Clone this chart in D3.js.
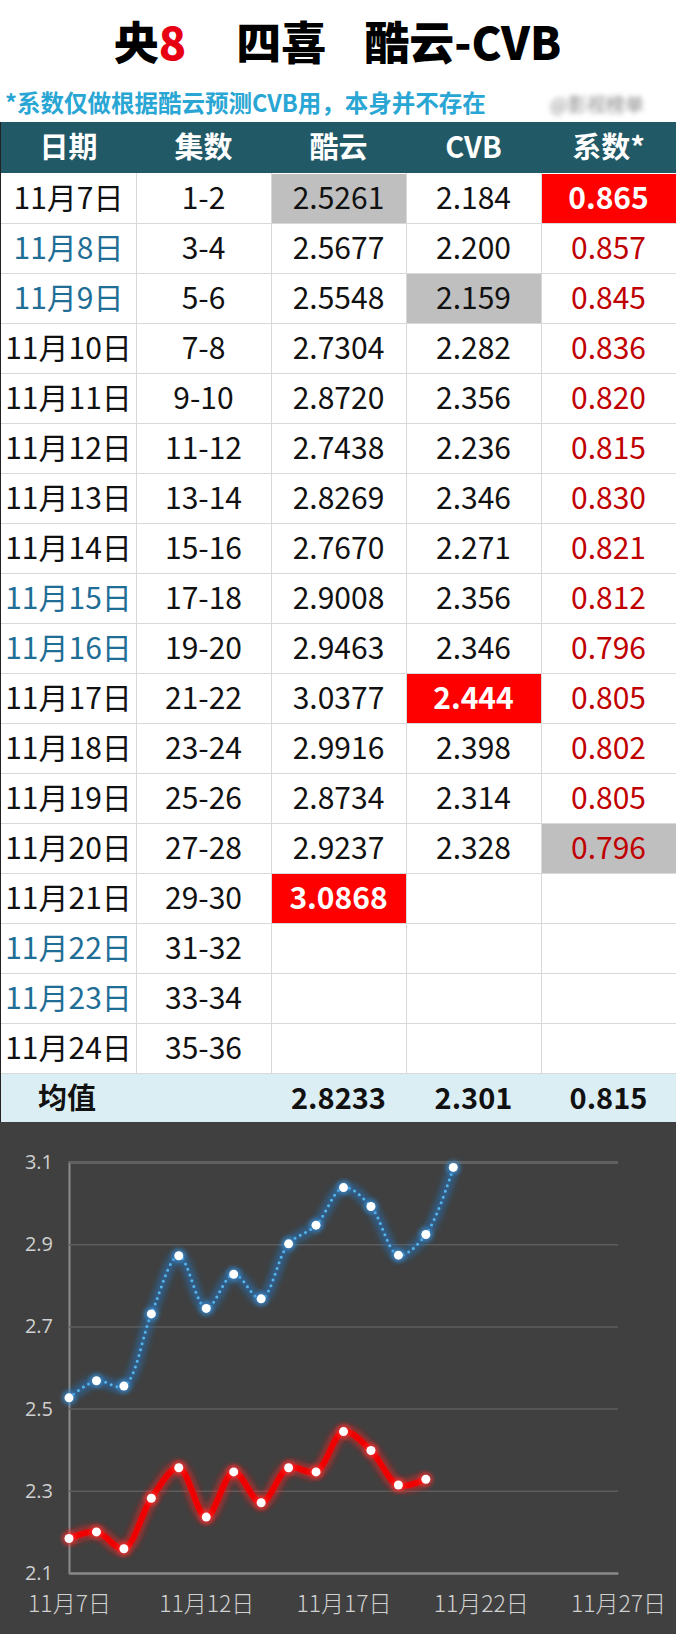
<!DOCTYPE html>
<html>
<head>
<meta charset="utf-8">
<script src="https://cdn.jsdelivr.net/npm/d3@7"></script>
<style>
  body { margin: 0; background: #fff; }
  svg { display: block; font-family: "Noto Sans CJK SC", "Noto Sans", sans-serif; }
</style>
</head>
<body>
<div id="chart"></div>
<script>
// ---- data ----
var dates = ["11月7日", "11月8日", "11月9日", "11月10日", "11月11日", "11月12日", "11月13日", "11月14日", "11月15日",
    "11月16日", "11月17日", "11月18日", "11月19日", "11月20日", "11月21日", "11月22日", "11月23日", "11月24日"];
var weekend = [false, true, true, false, false, false, false, false, true, true, false, false, false, false, false, true, true, false];
var episodes = ["1-2", "3-4", "5-6", "7-8", "9-10", "11-12", "13-14", "15-16", "17-18", "19-20", "21-22", "23-24",
    "25-26", "27-28", "29-30", "31-32", "33-34", "35-36"];
var kuyun = [2.5261, 2.5677, 2.5548, 2.7304, 2.8720, 2.7438, 2.8269, 2.7670, 2.9008, 2.9463, 3.0377, 2.9916, 2.8734, 2.9237, 3.0868];
var cvb = [2.184, 2.200, 2.159, 2.282, 2.356, 2.236, 2.346, 2.271, 2.356, 2.346, 2.444, 2.398, 2.314, 2.328];
var coef = [0.865, 0.857, 0.845, 0.836, 0.820, 0.815, 0.830, 0.821, 0.812, 0.796, 0.805, 0.802, 0.805, 0.796];
var headers = ["日期", "集数", "酷云", "CVB", "系数*"];
var averages = ["均值", "", "2.8233", "2.301", "0.815"];
var yTicks = [2.1, 2.3, 2.5, 2.7, 2.9, 3.1];
var xTickDays = [7, 12, 17, 22, 27];

var W = 679, H = 1634;
var colW = 135, tableX = 1;
var headTop = 122, headH = 51, rowH = 50;
var bodyTop = headTop + headH;
var avgTop = bodyTop + dates.length * rowH;
var chartTop = avgTop + 49;

var svg = d3.select("#chart").append("svg")
    .attr("width", W)
    .attr("height", H);

var defs = svg.append("defs");
function glow(id, sd) {
    var f = defs.append("filter").attr("id", id)
        .attr("x", "-20%").attr("y", "-20%").attr("width", "140%").attr("height", "140%");
    f.append("feGaussianBlur").attr("stdDeviation", sd);
}
glow("blur3", 3);
glow("blur2", 2);
glow("blurWm", 2.5);

svg.append("rect").attr("width", W).attr("height", H).attr("fill", "#fff");

// ---- title ----
var title = svg.append("text")
    .attr("x", W / 2 - 2)
    .attr("y", 60)
    .attr("text-anchor", "middle")
    .attr("font-size", 45)
    .attr("font-weight", 900)
    .attr("fill", "#000");
title.append("tspan").text("央");
title.append("tspan").attr("fill", "#e60012").text("8");
title.append("tspan").attr("dx", 50).text("四喜");
title.append("tspan").attr("dx", 38).text("酷云-CVB");

svg.append("text")
    .attr("x", 5)
    .attr("y", 112)
    .attr("font-size", 23.5)
    .attr("font-weight", "bold")
    .attr("fill", "#29a6d3")
    .text("*系数仅做根据酷云预测CVB用，本身并不存在");

// blurred watermark
svg.append("text")
    .attr("x", 550)
    .attr("y", 112)
    .attr("font-size", 19)
    .attr("fill", "#888")
    .attr("filter", "url(#blurWm)")
    .text("@影视榜单");

// ---- header ----
svg.append("rect")
    .attr("x", 0).attr("y", headTop)
    .attr("width", tableX + colW * 5).attr("height", headH)
    .attr("fill", "#215967");

svg.append("g").selectAll("text")
    .data(headers)
    .join("text")
    .attr("x", function (d, i) { return tableX + colW * i + colW / 2; })
    .attr("y", headTop + 36)
    .attr("text-anchor", "middle")
    .attr("font-size", 29)
    .attr("font-weight", "bold")
    .attr("fill", "#fff")
    .text(function (d) { return d; });

// ---- body ----
var rows = dates.map(function (d, i) {
    return {
        date: d,
        weekend: weekend[i],
        ep: episodes[i],
        k: i < kuyun.length ? kuyun[i].toFixed(4) : "",
        c: i < cvb.length ? cvb[i].toFixed(3) : "",
        x: i < coef.length ? coef[i].toFixed(3) : ""
    };
});

var kMin = d3.min(kuyun), kMax = d3.max(kuyun);
var cMin = d3.min(cvb), cMax = d3.max(cvb);
var xMin = d3.min(coef), xMax = d3.max(coef);

var body = svg.append("g");
rows.forEach(function (r, i) {
    var y = bodyTop + i * rowH;
    var cells = [
        { t: r.date, col: r.weekend ? "#1f6e96" : "#111" },
        { t: r.ep, col: "#111" },
        { t: r.k, col: "#111" },
        { t: r.c, col: "#111" },
        { t: r.x, col: "#c00000" }
    ];
    // highlights: grey = min, red = max
    if (i < kuyun.length) {
        if (kuyun[i] === kMin) cells[2].bg = "#bfbfbf";
        if (kuyun[i] === kMax) { cells[2].bg = "#ff0000"; cells[2].col = "#fff"; cells[2].bold = true; }
    }
    if (i < cvb.length) {
        if (cvb[i] === cMin) cells[3].bg = "#bfbfbf";
        if (cvb[i] === cMax) { cells[3].bg = "#ff0000"; cells[3].col = "#fff"; cells[3].bold = true; }
    }
    if (i < coef.length) {
        if (coef[i] === xMax) { cells[4].bg = "#ff0000"; cells[4].col = "#fff"; cells[4].bold = true; }
        if (coef[i] === xMin && i === coef.lastIndexOf(xMin)) cells[4].bg = "#bfbfbf";
    }
    cells.forEach(function (c, j) {
        var x = tableX + j * colW;
        if (c.bg) {
            body.append("rect")
                .attr("x", x + 1).attr("y", y + 1)
                .attr("width", colW - 1).attr("height", rowH - 1)
                .attr("fill", c.bg);
        }
        body.append("text")
            .attr("x", x + colW / 2)
            .attr("y", y + 36)
            .attr("text-anchor", "middle")
            .attr("font-size", 30)
            .attr("font-weight", c.bold ? "bold" : "normal")
            .attr("fill", c.col)
            .text(c.t);
    });
});

// grid lines
var grid = svg.append("g").attr("stroke", "#d9d9d9").attr("stroke-width", 1);
d3.range(1, dates.length + 1).forEach(function (i) {
    grid.append("line")
        .attr("x1", 0).attr("x2", tableX + colW * 5)
        .attr("y1", bodyTop + i * rowH + 0.5).attr("y2", bodyTop + i * rowH + 0.5);
});
d3.range(1, 5).forEach(function (j) {
    grid.append("line")
        .attr("x1", tableX + j * colW + 0.5).attr("x2", tableX + j * colW + 0.5)
        .attr("y1", bodyTop).attr("y2", avgTop);
});
svg.append("line")
    .attr("x1", 0.5).attr("x2", 0.5).attr("y1", headTop).attr("y2", chartTop)
    .attr("stroke", "#222").attr("stroke-width", 1);

// ---- average row ----
svg.append("rect")
    .attr("x", 1).attr("y", avgTop + 1)
    .attr("width", tableX + colW * 5 - 1).attr("height", chartTop - avgTop - 1)
    .attr("fill", "#dbeef3");
svg.append("g").selectAll("text")
    .data(averages)
    .join("text")
    .attr("x", function (d, i) { return i === 0 ? 38 : tableX + colW * i + colW / 2; })
    .attr("y", avgTop + 36)
    .attr("text-anchor", function (d, i) { return i === 0 ? "start" : "middle"; })
    .attr("font-size", 29)
    .attr("font-weight", "bold")
    .attr("fill", "#111")
    .text(function (d) { return d; });

// ---- line chart ----
svg.append("rect")
    .attr("x", 0).attr("y", chartTop)
    .attr("width", 676).attr("height", H - chartTop)
    .attr("fill", "#404040");

var day = function (d) { return new Date(2023, 10, d); };
var x = d3.scaleTime().domain([day(7), day(27)]).range([69, 618]);
var y = d3.scaleLinear().domain([2.1, 3.1]).range([1573, 1162]);

svg.append("g")
    .attr("transform", "translate(69,0)")
    .call(d3.axisLeft(y).tickValues(yTicks).tickSize(-(618 - 69)).tickFormat(d3.format(".1f")).tickPadding(16))
    .call(function (g) {
        g.select(".domain").attr("stroke", "#8c8c8c").attr("stroke-width", 2);
        g.selectAll(".tick line").attr("stroke", "#5d5d5d").attr("stroke-width", 1.5);
        g.selectAll(".tick text").attr("fill", "#d0d0d0").attr("font-size", 20)
            .attr("font-family", "'Open Sans', sans-serif");
    });

svg.append("g")
    .attr("transform", "translate(0,1573)")
    .call(d3.axisBottom(x).tickValues(xTickDays.map(day)).tickSize(0).tickPadding(23)
        .tickFormat(function (d) { return "11月" + d.getDate() + "日"; }))
    .call(function (g) {
        g.select(".domain").attr("stroke", "#8c8c8c").attr("stroke-width", 2);
        g.selectAll(".tick text").attr("fill", "#d0d0d0").attr("font-size", 23)
            .attr("font-family", "'Noto Sans CJK SC', sans-serif").attr("font-weight", 300);
    });

var kData = kuyun.map(function (v, i) { return { d: day(7 + i), v: v }; });
var cData = cvb.map(function (v, i) { return { d: day(7 + i), v: v }; });

var line = d3.line()
    .x(function (d) { return x(d.d); })
    .y(function (d) { return y(d.v); })
    .curve(d3.curveCatmullRom.alpha(0.5));

// 酷云: dotted blue with glow
svg.append("path").datum(kData)
    .attr("d", line)
    .attr("fill", "none")
    .attr("stroke", "#1f78c8")
    .attr("stroke-width", 10)
    .attr("stroke-opacity", 0.55)
    .attr("filter", "url(#blur3)");
svg.append("path").datum(kData)
    .attr("d", line)
    .attr("fill", "none")
    .attr("stroke", "#55b4ea")
    .attr("stroke-width", 3)
    .attr("stroke-linecap", "round")
    .attr("stroke-dasharray", "0 6");

// CVB: solid red with glow
svg.append("path").datum(cData)
    .attr("d", line)
    .attr("fill", "none")
    .attr("stroke", "#ff1a1a")
    .attr("stroke-width", 12)
    .attr("stroke-opacity", 0.6)
    .attr("filter", "url(#blur3)");
svg.append("path").datum(cData)
    .attr("d", line)
    .attr("fill", "none")
    .attr("stroke", "#ee0000")
    .attr("stroke-width", 6)
    .attr("stroke-linejoin", "round");

function dots(data, glowColor) {
    var g = svg.append("g");
    g.selectAll("circle.g").data(data).join("circle")
        .attr("class", "g")
        .attr("cx", function (d) { return x(d.d); })
        .attr("cy", function (d) { return y(d.v); })
        .attr("r", 7)
        .attr("fill", glowColor)
        .attr("opacity", 0.7)
        .attr("filter", "url(#blur2)");
    g.selectAll("circle.p").data(data).join("circle")
        .attr("class", "p")
        .attr("cx", function (d) { return x(d.d); })
        .attr("cy", function (d) { return y(d.v); })
        .attr("r", 4.5)
        .attr("fill", "#fff");
}
dots(kData, "#3a8fd6");
dots(cData, "#ff3030");
</script>
</body>
</html>
